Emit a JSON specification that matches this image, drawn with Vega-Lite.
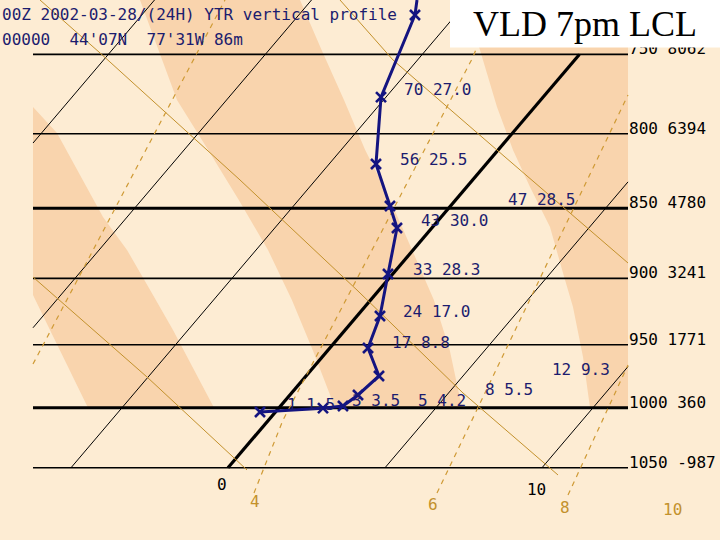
{
  "$schema": "https://vega.github.io/schema/vega-lite/v6.json",
  "width": 720,
  "height": 540,
  "autosize": {"type": "fit", "contains": "padding"},
  "padding": 0,
  "background": "#fdecd3",
  "config": {"view": {"stroke": null}},
  "datasets": {
    "bands": [
      {"b": "A", "p": 782.8, "x": -6.21, "x2": -6.21},
      {"b": "A", "p": 799.6, "x": -6.21, "x2": -5.446},
      {"b": "A", "p": 856.1, "x": -6.21, "x2": -3.981},
      {"b": "A", "p": 879.4, "x": -6.21, "x2": -3.217},
      {"b": "A", "p": 912.3, "x": -6.21, "x2": -2.389},
      {"b": "A", "p": 938.6, "x": -5.669, "x2": -1.752},
      {"b": "A", "p": 1000, "x": -4.459, "x2": -0.446},
      {"b": "B", "p": 717.5, "x": -2.803, "x2": 2.293},
      {"b": "B", "p": 747.3, "x": -2.213, "x2": 2.981},
      {"b": "B", "p": 778.4, "x": -1.624, "x2": 3.694},
      {"b": "B", "p": 810.7, "x": -0.631, "x2": 4.369},
      {"b": "B", "p": 844.4, "x": 0.344, "x2": 5.166},
      {"b": "B", "p": 879.4, "x": 1.274, "x2": 5.863},
      {"b": "B", "p": 916.0, "x": 2.035, "x2": 6.557},
      {"b": "B", "p": 954.0, "x": 2.697, "x2": 7.061},
      {"b": "B", "p": 1000, "x": 3.408, "x2": 7.452},
      {"b": "C", "p": 717.5, "x": 7.548, "x2": 12.739},
      {"b": "C", "p": 741.2, "x": 7.93, "x2": 12.739},
      {"b": "C", "p": 782.8, "x": 8.567, "x2": 12.739},
      {"b": "C", "p": 810.7, "x": 9.076, "x2": 12.739},
      {"b": "C", "p": 835.5, "x": 9.618, "x2": 12.739},
      {"b": "C", "p": 863.1, "x": 10.255, "x2": 12.739},
      {"b": "C", "p": 896.1, "x": 10.669, "x2": 12.739},
      {"b": "C", "p": 921.2, "x": 10.987, "x2": 12.739},
      {"b": "C", "p": 959.5, "x": 11.306, "x2": 12.739},
      {"b": "C", "p": 1000, "x": 11.529, "x2": 12.739}
    ],
    "plevels": [
      {"p": 750, "x": -6.21, "x2": 12.739, "t": "750 8062"},
      {"p": 800, "x": -6.21, "x2": 12.739, "t": "800 6394"},
      {"p": 850, "x": -6.21, "x2": 12.739, "t": "850 4780"},
      {"p": 900, "x": -6.21, "x2": 12.739, "t": "900 3241"},
      {"p": 950, "x": -6.21, "x2": 12.739, "t": "950 1771"},
      {"p": 1000, "x": -6.21, "x2": 12.739, "t": "1000 360"},
      {"p": 1050, "x": -6.21, "x2": 12.739, "t": "1050 -987"}
    ],
    "isotherms": [
      {"T": -15, "p": 806.1, "x": -6.21}, {"T": -15, "p": 717.5, "x": -2.34},
      {"T": -10, "p": 936.9, "x": -6.21}, {"T": -10, "p": 717.5, "x": 2.66},
      {"T": -5, "p": 1050, "x": -5}, {"T": -5, "p": 717.5, "x": 7.66},
      {"T": 0, "p": 1050, "x": 0}, {"T": 0, "p": 750, "x": 11.19},
      {"T": 5, "p": 1050, "x": 5}, {"T": 5, "p": 832.0, "x": 12.739},
      {"T": 10, "p": 1050, "x": 10}, {"T": 10, "p": 967.0, "x": 12.739}
    ],
    "dry": [
      {"id": "L1", "p": 717.5, "x": -5.987}, {"id": "L1", "p": 749.1, "x": -4.076},
      {"id": "L1", "p": 830.7, "x": 0.382}, {"id": "L1", "p": 908.6, "x": 4.108},
      {"id": "L1", "p": 988.0, "x": 7.484}, {"id": "L1", "p": 1056.2, "x": 10.51},
      {"id": "L2", "p": 899.0, "x": -6.21}, {"id": "L2", "p": 975.2, "x": -2.58},
      {"id": "L2", "p": 1051.9, "x": 0.605},
      {"id": "L3", "p": 717.5, "x": 3.567}, {"id": "L3", "p": 753.4, "x": 5.255},
      {"id": "L3", "p": 815.3, "x": 8.822}, {"id": "L3", "p": 888.8, "x": 12.739}
    ],
    "mix": [
      {"w": 2, "p": 965.0, "x": -6.21}, {"w": 2, "p": 717.5, "x": -0.096},
      {"w": 4, "p": 1071.8, "x": 0.828}, {"w": 4, "p": 1010.0, "x": 1.752},
      {"w": 4, "p": 751.6, "x": 7.803}, {"w": 4, "p": 717.5, "x": 8.503},
      {"w": 6, "p": 1071.8, "x": 6.656}, {"w": 6, "p": 775.2, "x": 12.739},
      {"w": 8, "p": 1073.6, "x": 10.828}, {"w": 8, "p": 965.7, "x": 12.739}
    ],
    "profile": [
      {"i": 0, "p": 717.5, "x": 6.019},
      {"i": 1, "p": 726.3, "x": 5.955},
      {"i": 2, "p": 776.5, "x": 4.873},
      {"i": 3, "p": 820.0, "x": 4.713},
      {"i": 4, "p": 848.5, "x": 5.159},
      {"i": 5, "p": 863.8, "x": 5.382},
      {"i": 6, "p": 896.8, "x": 5.096},
      {"i": 7, "p": 928.0, "x": 4.841},
      {"i": 8, "p": 952.5, "x": 4.459},
      {"i": 9, "p": 974.4, "x": 4.809},
      {"i": 10, "p": 989.6, "x": 4.14},
      {"i": 11, "p": 998.5, "x": 3.662},
      {"i": 12, "p": 1000.3, "x": 3.025},
      {"i": 13, "p": 1003.4, "x": 1.019}
    ],
    "plabels": [
      {"t": "70 27.0", "p": 775.2, "x": 5.605},
      {"t": "56 25.5", "p": 820.6, "x": 5.478},
      {"t": "47 28.5", "p": 847.8, "x": 8.917},
      {"t": "43 30.0", "p": 862.4, "x": 6.146},
      {"t": "33 28.3", "p": 897.5, "x": 5.892},
      {"t": "24 17.0", "p": 928.7, "x": 5.573},
      {"t": "17 8.8", "p": 952.5, "x": 5.223},
      {"t": "12 9.3", "p": 973.6, "x": 10.318},
      {"t": "8 5.5", "p": 989.6, "x": 8.185},
      {"t": "5 4.2", "p": 998.5, "x": 6.051},
      {"t": "3 3.5", "p": 998.5, "x": 3.949},
      {"t": "1 1.5", "p": 1001.8, "x": 1.879}
    ],
    "tlabels": [
      {"t": "0", "p": 1069.2, "x": -0.35},
      {"t": "10", "p": 1073.6, "x": 9.522}
    ],
    "wlabels": [
      {"t": "4", "p": 1084.1, "x": 0.701},
      {"t": "6", "p": 1086.8, "x": 6.369},
      {"t": "8", "p": 1089.4, "x": 10.573},
      {"t": "10", "p": 1091.2, "x": 13.854}
    ],
    "header": [
      {"t": "00Z 2002-03-28/(24H) YTR vertical profile", "p": 729.3, "x": -7.197},
      {"t": "00000\u00a0\u00a044'07N\u00a0\u00a077'31W 86m", "p": 744.3, "x": -7.197}
    ],
    "box": [
      {"x": 7.07, "x2": 15.6688, "p": 717.5, "p2": 745.8, "t": "VLD 7pm LCL", "tx": 7.803, "tp": 738.6}
    ]
  },
  "encoding": {
    "x": {"field": "x", "type": "quantitative", "scale": {"domain": [-7.2611, 15.6688], "nice": false, "zero": false}, "axis": null},
    "y": {"field": "p", "type": "quantitative", "scale": {"type": "log", "domain": [717.5, 1113.6], "reverse": true, "nice": false}, "axis": null}
  },
  "layer": [
    {
      "data": {"name": "bands"},
      "mark": {"type": "area", "orient": "horizontal", "color": "#f9d4ad", "clip": true},
      "encoding": {"x2": {"field": "x2"}, "detail": {"field": "b"}}
    },
    {
      "data": {"name": "plevels"},
      "transform": [{"filter": "datum.p != 850 && datum.p != 1000"}],
      "mark": {"type": "rule", "color": "#000000", "strokeWidth": 1.6},
      "encoding": {"x2": {"field": "x2"}}
    },
    {
      "data": {"name": "plevels"},
      "transform": [{"filter": "datum.p == 850 || datum.p == 1000"}],
      "mark": {"type": "rule", "color": "#000000", "strokeWidth": 3},
      "encoding": {"x2": {"field": "x2"}}
    },
    {
      "data": {"name": "isotherms"},
      "transform": [{"filter": "datum.T != 0"}],
      "mark": {"type": "line", "color": "#000000", "strokeWidth": 1, "clip": true},
      "encoding": {"detail": {"field": "T"}}
    },
    {
      "data": {"name": "isotherms"},
      "transform": [{"filter": "datum.T == 0"}],
      "mark": {"type": "line", "color": "#000000", "strokeWidth": 3.2, "clip": true},
      "encoding": {"detail": {"field": "T"}}
    },
    {
      "data": {"name": "dry"},
      "mark": {"type": "line", "color": "#c3912c", "strokeWidth": 1, "clip": true},
      "encoding": {"detail": {"field": "id"}}
    },
    {
      "data": {"name": "mix"},
      "mark": {"type": "line", "color": "#cf9a35", "strokeWidth": 1.2, "strokeDash": [5, 5], "clip": true},
      "encoding": {"detail": {"field": "w"}}
    },
    {
      "data": {"name": "profile"},
      "mark": {"type": "line", "color": "#141480", "strokeWidth": 3, "clip": true},
      "encoding": {"order": {"field": "i", "type": "quantitative"}}
    },
    {
      "data": {"name": "profile"},
      "transform": [{"filter": "datum.i > 0"}],
      "mark": {"type": "point", "shape": "M-1,-1L1,1M1,-1L-1,1", "filled": false, "size": 100, "strokeWidth": 2.6, "color": "#141480", "opacity": 1}
    },
    {
      "data": {"name": "plevels"},
      "mark": {"type": "text", "font": "DejaVu Sans Mono", "fontSize": 16, "align": "left", "baseline": "alphabetic", "color": "#000000"},
      "encoding": {"x": {"datum": 12.771}, "text": {"field": "t"}}
    },
    {
      "data": {"name": "plabels"},
      "mark": {"type": "text", "font": "DejaVu Sans Mono", "fontSize": 16, "align": "left", "baseline": "alphabetic", "color": "#1c1c6e"},
      "encoding": {"text": {"field": "t"}}
    },
    {
      "data": {"name": "tlabels"},
      "mark": {"type": "text", "font": "DejaVu Sans Mono", "fontSize": 16, "align": "left", "baseline": "alphabetic", "color": "#000000"},
      "encoding": {"text": {"field": "t"}}
    },
    {
      "data": {"name": "wlabels"},
      "mark": {"type": "text", "font": "DejaVu Sans Mono", "fontSize": 16, "align": "left", "baseline": "alphabetic", "color": "#c3912c"},
      "encoding": {"text": {"field": "t"}}
    },
    {
      "data": {"name": "header"},
      "mark": {"type": "text", "font": "DejaVu Sans Mono", "fontSize": 16, "align": "left", "baseline": "alphabetic", "color": "#1c1c6e"},
      "encoding": {"text": {"field": "t"}}
    },
    {
      "data": {"name": "box"},
      "mark": {"type": "rect", "color": "#ffffff"},
      "encoding": {"x2": {"field": "x2"}, "y2": {"field": "p2"}}
    },
    {
      "data": {"name": "box"},
      "mark": {"type": "text", "font": "Liberation Serif", "fontSize": 36, "align": "left", "baseline": "alphabetic", "color": "#000000"},
      "encoding": {"x": {"field": "tx", "type": "quantitative"}, "y": {"field": "tp", "type": "quantitative"}, "text": {"field": "t"}}
    }
  ]
}
